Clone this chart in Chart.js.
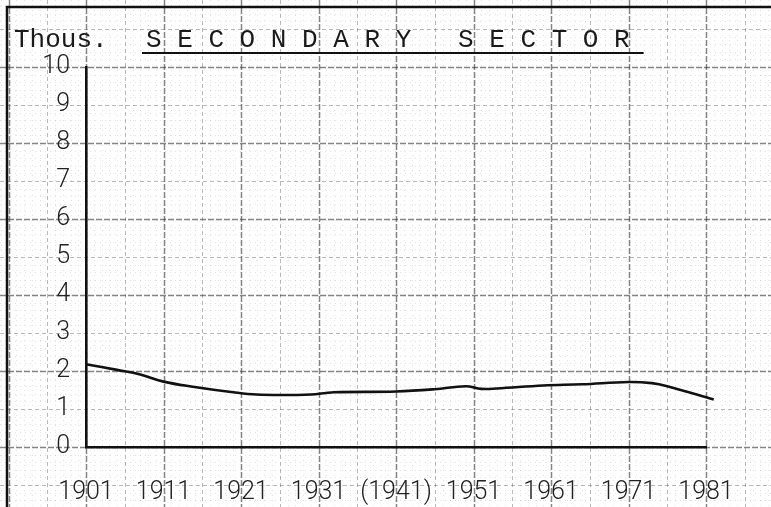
<!DOCTYPE html>
<html>
<head>
<meta charset="utf-8">
<script src="https://cdn.jsdelivr.net/npm/chart.js@4"></script>
<style>
  html, body { margin: 0; padding: 0; background: #fff; }
  #wrap { width: 771px; height: 507px; }
</style>
</head>
<body>
<div id="wrap"><canvas id="c" width="771" height="507"></canvas></div>
<script>
// ---- data ----
const years  = [1901, 1905, 1908, 1911, 1915, 1920, 1923, 1928, 1930, 1933, 1941, 1946, 1950, 1952, 1954, 1960, 1965, 1971, 1974, 1976, 1982];
const values = [2.18, 2.03, 1.91, 1.72, 1.58, 1.44, 1.38, 1.37, 1.38, 1.44, 1.46, 1.52, 1.60, 1.53, 1.54, 1.62, 1.65, 1.71, 1.68, 1.60, 1.25];
const tickYears  = [1901, 1911, 1921, 1931, 1941, 1951, 1961, 1971, 1981];
const tickLabels = ['1901', '1911', '1921', '1931', '(1941)', '1951', '1961', '1971', '1981'];
const unitLabel = 'Thous.';
const titleText = 'S E C O N D A R Y   S E C T O R';

const tickFont = { family: 'Roboto', weight: '300', size: 25 };

const paper = {
  id: 'paper',
  beforeDraw(chart) {
    const ctx = chart.ctx, W = chart.width, H = chart.height;
    const xs = chart.scales.x, ys = chart.scales.y;
    ctx.save();
    ctx.fillStyle = '#fff';
    ctx.fillRect(0, 0, W, H);
    const styles = {
      minor:  { c: 'rgba(120,120,120,0.22)', w: 1,   d: [1, 4] },
      medium: { c: 'rgba(80,80,80,0.40)',   w: 1,   d: [4, 3] },
      major:  { c: 'rgba(50,50,50,0.60)',   w: 1.5, d: [6, 2] }
    };
    const line = (x1, y1, x2, y2, s) => {
      ctx.strokeStyle = s.c; ctx.lineWidth = s.w; ctx.setLineDash(s.d);
      ctx.beginPath(); ctx.moveTo(x1, y1); ctx.lineTo(x2, y2); ctx.stroke();
    };
    // vertical lines: every year, medium every 5, major every 10
    for (let yr = 1880; yr <= 2000; yr++) {
      const px = Math.round(xs.getPixelForValue(yr)) + 0.5;
      if (px < 0 || px > W) continue;
      const d = ((yr - 1901) % 10 + 10) % 10;
      const s = d === 0 ? styles.major : (d === 5 ? styles.medium : styles.minor);
      line(px, 0, px, H, s);
    }
    // horizontal lines: every 0.2, medium every 1, major every 2
    for (let k = -15; k <= 75; k++) {
      const v = k / 5;
      const py = Math.round(ys.getPixelForValue(v)) + 0.5;
      if (py < 0 || py > H) continue;
      const s = (k % 10 === 0) ? styles.major : (k % 5 === 0 ? styles.medium : styles.minor);
      line(0, py, W, py, s);
    }
    ctx.setLineDash([]);
    // frame
    ctx.strokeStyle = '#111'; ctx.lineWidth = 2.5;
    ctx.beginPath(); ctx.moveTo(W, 7); ctx.lineTo(7, 7); ctx.lineTo(7, H); ctx.stroke();
    // heading
    ctx.fillStyle = '#1a1a1a';
    ctx.font = '26px "Liberation Mono"';
    ctx.textBaseline = 'alphabetic';
    ctx.fillText(unitLabel, 14, 47);
    const tx = 146;
    ctx.fillText(titleText, tx, 47);
    const tw = ctx.measureText(titleText).width;
    ctx.lineWidth = 2.2;
    ctx.beginPath(); ctx.moveTo(142, 53); ctx.lineTo(tx + tw + 14, 53); ctx.stroke();
    ctx.restore();
  }
};

new Chart(document.getElementById('c'), {
  type: 'line',
  data: {
    datasets: [{
      data: years.map((y, i) => ({ x: y, y: values[i] })),
      borderColor: '#111',
      borderWidth: 2.6,
      pointRadius: 0,
      tension: 0.4,
      clip: false,
      fill: false
    }]
  },
  options: {
    responsive: false,
    animation: false,
    devicePixelRatio: 1,
    layout: { padding: { top: 67, right: 65, bottom: 0, left: 0 } },
    plugins: { legend: { display: false }, tooltip: { enabled: false }, title: { display: false } },
    scales: {
      x: {
        type: 'linear',
        min: 1901, max: 1981,
        afterBuildTicks: s => { s.ticks = tickYears.map(v => ({ value: v })); },
        afterFit: s => { s.height = 60; },
        grid: { display: false },
        border: { display: true, color: '#111', width: 2.6 },
        ticks: {
          autoSkip: false, maxRotation: 0, padding: 23,
          color: '#222', font: tickFont,
          callback: (v) => { const i = tickYears.indexOf(v); return i >= 0 ? tickLabels[i] : ''; }
        }
      },
      y: {
        min: 0, max: 10,
        afterFit: s => { s.width = 86; },
        grid: { display: false },
        border: { display: true, color: '#111', width: 2.6 },
        ticks: { stepSize: 1, padding: 8, color: '#222', font: tickFont }
      }
    }
  },
  plugins: [paper]
});
</script>
</body>
</html>
